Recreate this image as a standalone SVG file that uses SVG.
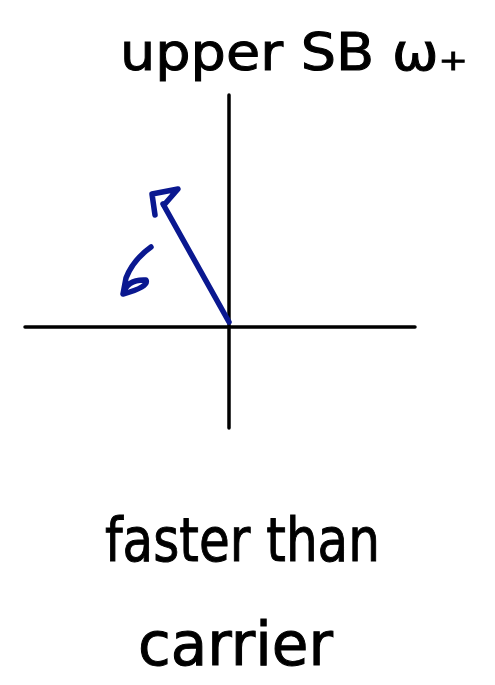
<svg xmlns="http://www.w3.org/2000/svg" width="495" height="685" viewBox="0 0 495 685">
<style>
.axis{stroke:#000;stroke-width:3.5;fill:none;stroke-linecap:round}
.vec{stroke:#0a1890;stroke-width:5.5;fill:none;stroke-linecap:round;stroke-linejoin:round}
.hand{font-family:"DejaVu Sans","Liberation Sans",sans-serif;fill:#000;stroke:#000;stroke-width:1}
</style>
<rect width="495" height="685" fill="#fff"/>
<g id="axes">
<line class="axis" x1="229" y1="95" x2="229" y2="428"/>
<line class="axis" x1="25" y1="327" x2="415" y2="327"/>
</g>
<g id="connectors">
<path class="vec" d="M229,322 L163,204"/>
<path class="vec" d="M155,215 L152,194 L178,189 L164,205"/>
<path class="vec" d="M151,247 Q133,260 126,278 L123,294 Q127,279 146,280 Q149,287 123,294"/>
</g>
<g id="title"><text class="hand" x="120" y="70" font-size="52" textLength="348" lengthAdjust="spacingAndGlyphs">upper SB ω₊</text></g>
<g id="caption">
<text class="hand" x="105" y="561" font-size="60" textLength="275" lengthAdjust="spacingAndGlyphs">faster than</text>
<text class="hand" x="138" y="665" font-size="60" textLength="195" lengthAdjust="spacingAndGlyphs">carrier</text>
</g>
</svg>
